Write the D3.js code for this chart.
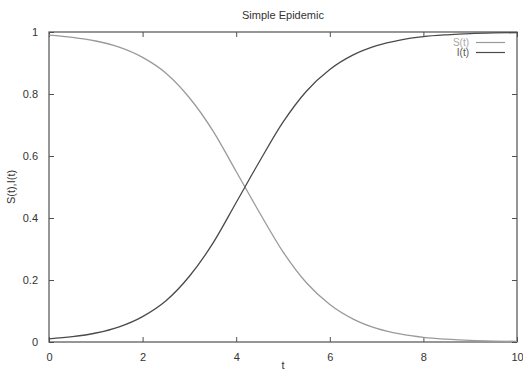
<!DOCTYPE html>
<html>
<head>
<meta charset="utf-8">
<script src="https://cdn.jsdelivr.net/npm/d3@7"></script>
<style>
  html, body { margin: 0; padding: 0; background: #fff; }
  svg { display: block; font-family: "Liberation Sans", Arial, sans-serif; }
</style>
</head>
<body>
<svg id="chart" width="523" height="371"></svg>
<script>
// Time samples and the two population fractions
const tValues = [0, 0.5, 1, 1.5, 2, 2.5, 3, 3.5, 4, 4.5, 5, 5.5, 6, 6.5, 7, 7.5, 8, 8.5, 9, 9.5, 10];
const infected = [0.010, 0.017, 0.029, 0.049, 0.082, 0.133, 0.212, 0.318, 0.450, 0.583, 0.709,
                  0.809, 0.879, 0.926, 0.956, 0.974, 0.985, 0.991, 0.995, 0.997, 0.998];
const susceptible = [0.990, 0.983, 0.971, 0.951, 0.918, 0.867, 0.788, 0.682, 0.550, 0.417, 0.291,
                     0.191, 0.121, 0.074, 0.044, 0.026, 0.015, 0.009, 0.005, 0.003, 0.002];
const xTicks = [0, 2, 4, 6, 8, 10];
const yTicks = [0, 0.2, 0.4, 0.6, 0.8, 1];

const series = [
  { name: "S(t)", values: susceptible, color: "#9a9a9a", text: "#a8a8a8" },
  { name: "I(t)", values: infected, color: "#4a4a4a", text: "#555" }
];

const svg = d3.select("#chart");
const plotLeft = 49, plotRight = 517, plotTop = 32, plotBottom = 342;

const x = d3.scaleLinear().domain([0, 10]).range([plotLeft, plotRight]);
const y = d3.scaleLinear().domain([0, 1]).range([plotBottom, plotTop]);

const axisColor = "#505050";

function styleAxis(g) {
  g.select(".domain").remove();
  g.selectAll(".tick line").attr("stroke", axisColor).attr("stroke-width", 1);
  g.selectAll(".tick text").attr("fill", "#333").attr("font-size", 11)
    .attr("font-family", "Liberation Sans, Arial, sans-serif");
}

// Bottom axis with labels, ticks pointing inward
svg.append("g").attr("transform", `translate(0,${plotBottom})`)
  .call(d3.axisBottom(x).tickValues(xTicks).tickSize(-5).tickPadding(11).tickFormat(d3.format("~g")))
  .call(styleAxis);
// Top mirror ticks
svg.append("g").attr("transform", `translate(0,${plotTop})`)
  .call(d3.axisTop(x).tickValues(xTicks).tickSize(-5).tickFormat(""))
  .call(styleAxis);
// Left axis with labels
svg.append("g").attr("transform", `translate(${plotLeft},0)`)
  .call(d3.axisLeft(y).tickValues(yTicks).tickSize(-5).tickPadding(11).tickFormat(d3.format("~g")))
  .call(styleAxis);
// Right mirror ticks
svg.append("g").attr("transform", `translate(${plotRight},0)`)
  .call(d3.axisRight(y).tickValues(yTicks).tickSize(-5).tickFormat(""))
  .call(styleAxis);

// Plot border
svg.append("rect")
  .attr("x", plotLeft).attr("y", plotTop)
  .attr("width", plotRight - plotLeft).attr("height", plotBottom - plotTop)
  .attr("fill", "none").attr("stroke", axisColor).attr("stroke-width", 1.2);

// Curves
const line = d3.line()
  .x((d, i) => x(tValues[i]))
  .y(d => y(d))
  .curve(d3.curveMonotoneX);

series.forEach(s => {
  svg.append("path")
    .datum(s.values)
    .attr("d", line)
    .attr("fill", "none")
    .attr("stroke", s.color)
    .attr("stroke-width", 1.3);
});

// Key
series.forEach((s, i) => {
  const ky = 42.5 + i * 10;
  svg.append("text")
    .attr("x", 469).attr("y", ky).attr("dy", "0.35em")
    .attr("text-anchor", "end").attr("font-size", 10)
    .attr("fill", s.text).text(s.name);
  svg.append("line")
    .attr("x1", 476).attr("x2", 505).attr("y1", ky).attr("y2", ky)
    .attr("stroke", s.color).attr("stroke-width", 1.2);
});

// Title and axis labels
svg.append("text")
  .attr("x", 283).attr("y", 19).attr("text-anchor", "middle")
  .attr("font-size", 11).attr("fill", "#333").text("Simple Epidemic");
svg.append("text")
  .attr("x", 283).attr("y", 369).attr("text-anchor", "middle")
  .attr("font-size", 11).attr("fill", "#333").text("t");
svg.append("text")
  .attr("transform", `translate(15,${(plotTop + plotBottom) / 2}) rotate(-90)`)
  .attr("text-anchor", "middle")
  .attr("font-size", 11).attr("fill", "#333").text("S(t),I(t)");
</script>
</body>
</html>
